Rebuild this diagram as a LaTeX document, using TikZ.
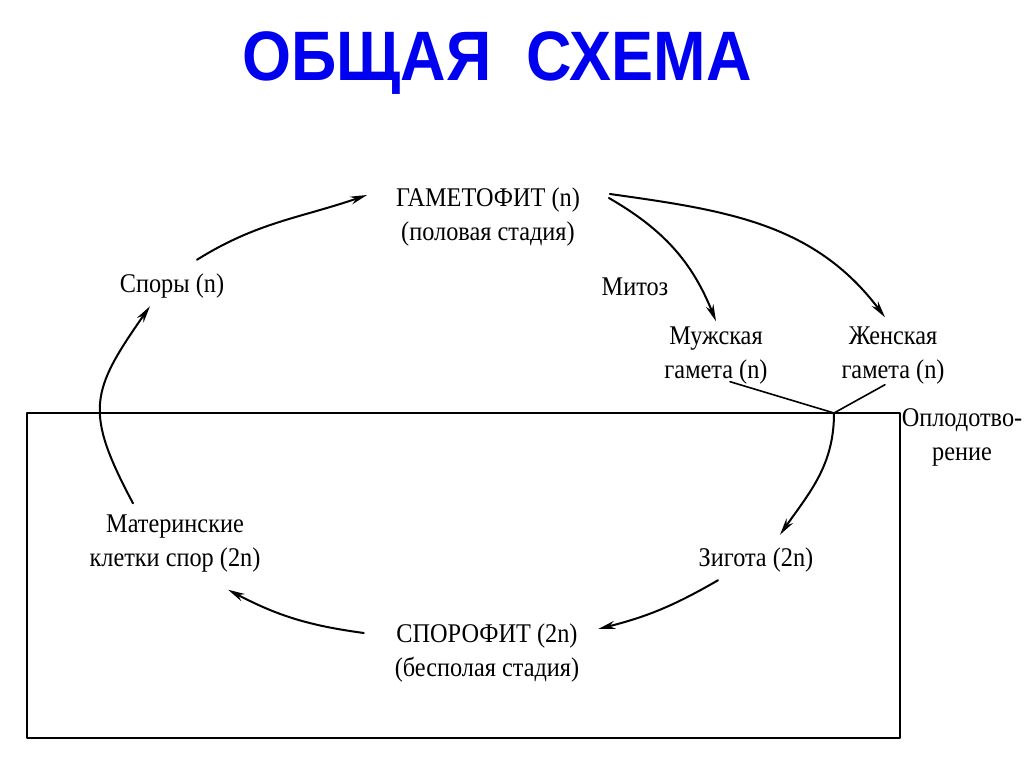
\documentclass[tikz,border=0pt]{standalone}
\usepackage{fontspec}
\setmainfont[FakeStretch=0.9]{Liberation Serif}
\newfontfamily\titlefont[FakeStretch=0.9]{Liberation Sans}
\usetikzlibrary{arrows.meta}
\definecolor{titleblue}{RGB}{0,0,240}
\tikzset{lbl/.style={inner sep=2pt, outer sep=0pt, align=center, font=\fontsize{27}{34}\selectfont}}
\begin{document}
\begin{tikzpicture}[x=1pt, y=1pt, >={Stealth[length=17pt,width=8pt]}, line width=2pt, line join=round, line cap=round]
	\useasboundingbox (0,0) rectangle (1024,767);
	\node (title) at (497,704) {\titlefont\bfseries\fontsize{70}{80}\selectfont\color{titleblue}ОБЩАЯ~~СХЕМА};
	% Стадии цикла
	\node[lbl] (gameto) at (488,550) {ГАМЕТОФИТ (n)\\(половая стадия)};
	\node[lbl] (spores) at (172,481) {Споры (n)};
	\node[lbl] (mitoz) at (635,480) {Митоз};
	\node[lbl] (male) at (716,411) {Мужская\\гамета (n)};
	\node[lbl] (female) at (893,411) {Женская\\гамета (n)};
	\node[lbl] (fert) at (962,330) {Оплодотво-\\рение};
	\node[lbl] (zygote) at (756,207) {Зигота (2n)};
	\node[lbl] (sporo) at (487,114) {СПОРОФИТ (2n)\\(бесполая стадия)};
	\node[lbl] (mother) at (175,223) {Материнские\\клетки спор (2n)};
	\coordinate (fp) at (834,354);
	\draw (27,29) rectangle (900,354);
	% Стрелки
	\draw[->] ([xshift=25pt,yshift=12pt]spores.north) to[out=32,in=-161] ([xshift=-27pt,yshift=22pt]gameto.west);
	\draw[->] ([xshift=27pt,yshift=19pt]gameto.east) to[out=-30,in=112] ([yshift=4pt]male.north);
	\draw[->] ([xshift=28pt,yshift=23pt]gameto.east) to[out=-8,in=127] ([xshift=-8pt,yshift=8pt]female.north);
	\draw[line width=1.6pt] ([xshift=14pt,yshift=5pt]male.south) -- (fp) -- ([xshift=-8pt,yshift=2pt]female.south);
	\draw[->] (fp) to[out=-90,in=55] ([xshift=24pt,yshift=11pt]zygote.north);
	\draw[->] ([xshift=-38pt,yshift=-6pt]zygote.south) to[bend left=8] ([xshift=17pt,yshift=24pt]sporo.east);
	\draw[->] ([xshift=-29pt,yshift=20pt]sporo.west) to[bend left=10] ([xshift=53pt,yshift=-15pt]mother.south);
	\draw[->] ([xshift=-42pt,yshift=10pt]mother.north) to[out=118,in=-125,looseness=1.35] ([xshift=-22pt,yshift=-6pt]spores.south);
\end{tikzpicture}
\end{document}
